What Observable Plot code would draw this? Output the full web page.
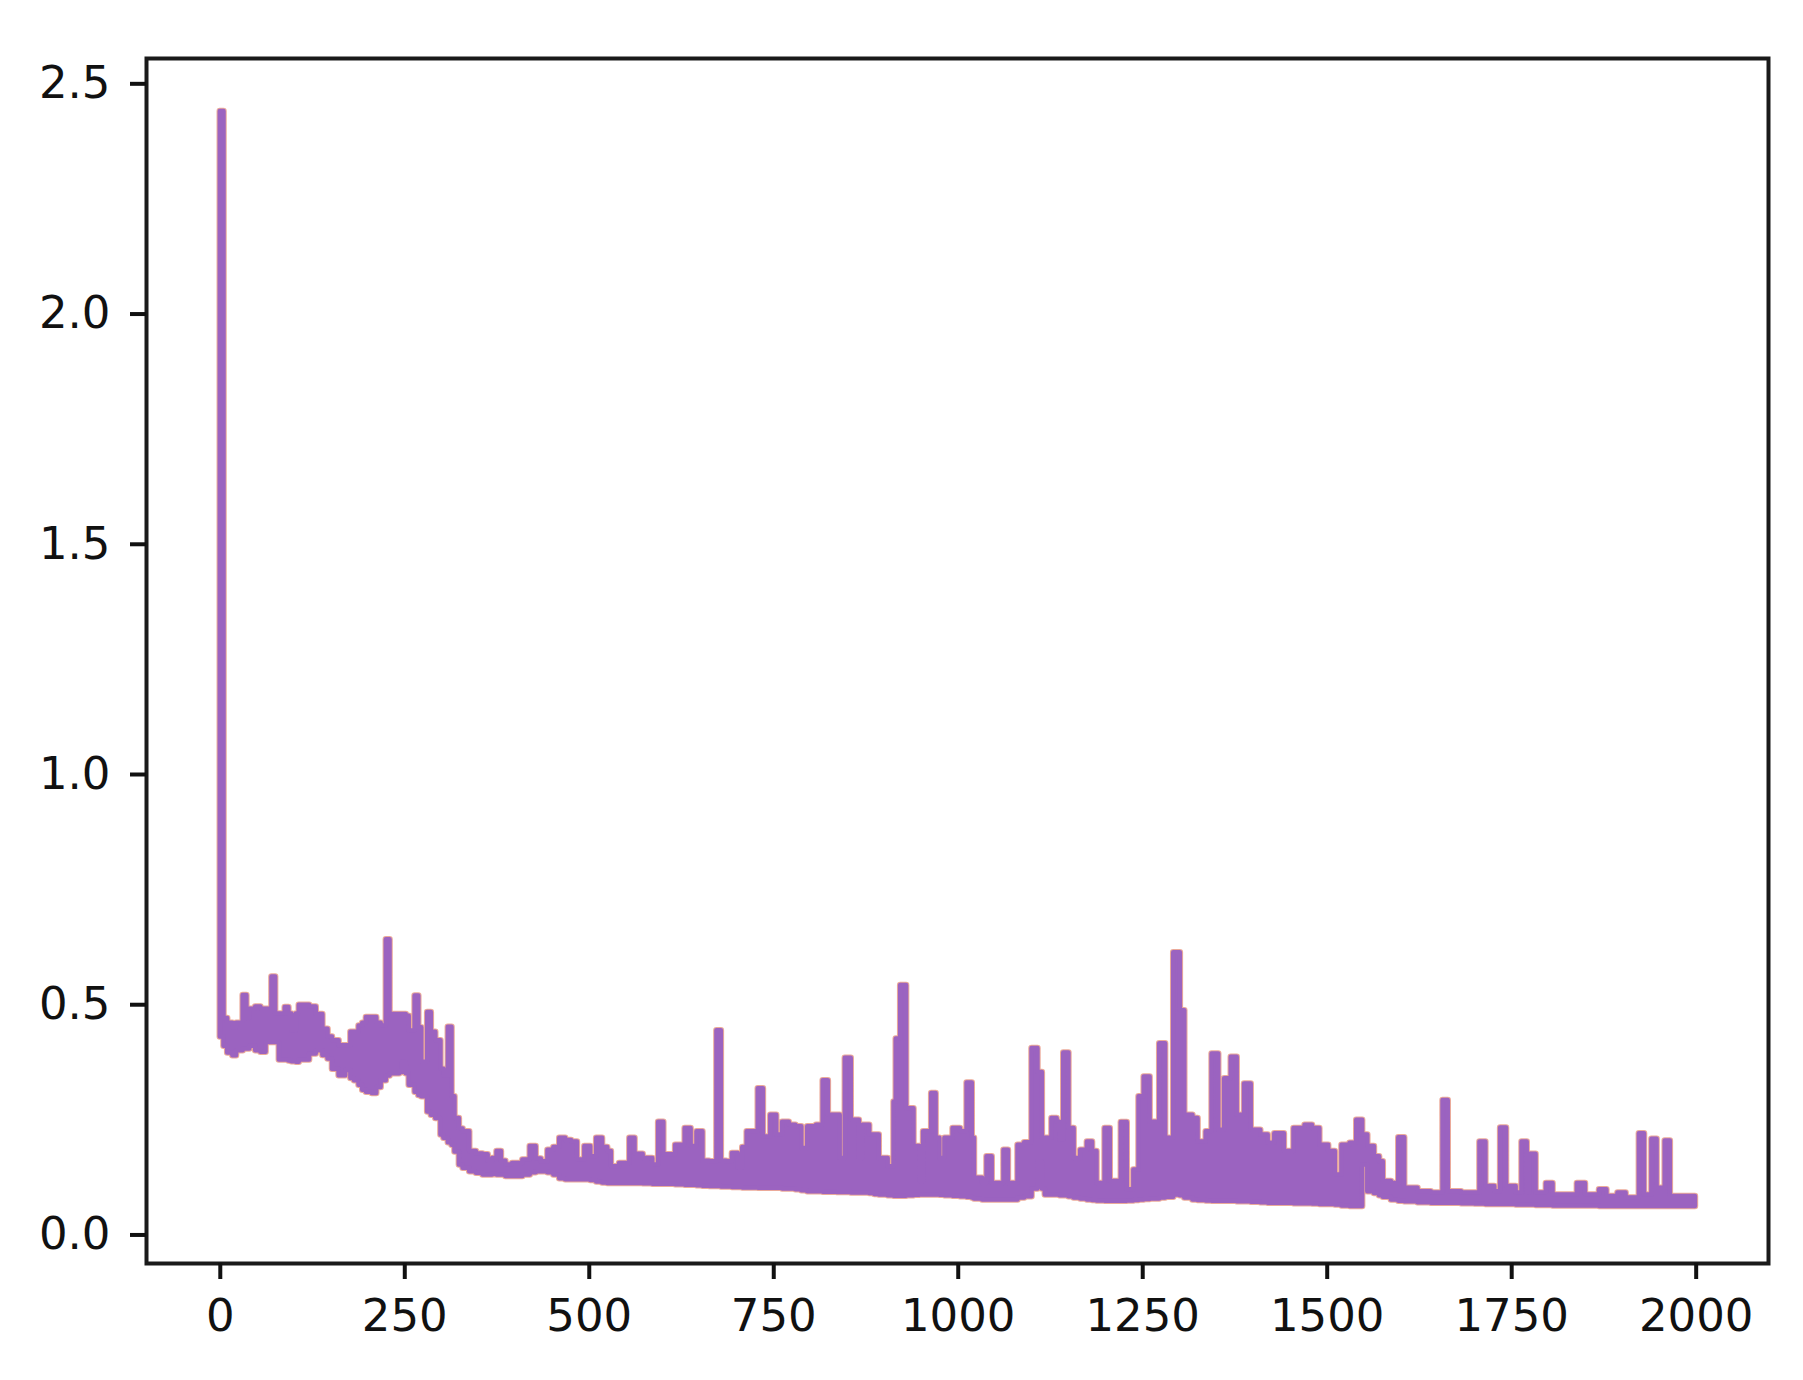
<!DOCTYPE html>
<html>
<head>
<meta charset="utf-8">
<script src="https://cdn.jsdelivr.net/npm/d3@7"></script>
<script src="https://cdn.jsdelivr.net/npm/@observablehq/plot@0.6"></script>
<style>
  html, body { margin: 0; padding: 0; background: #ffffff; }
  #chart svg { display: block; }
</style>
</head>
<body>
<div id="chart"></div>
<script>
// Training steps (x) where the envelope of the oscillating loss curve was read
const steps = [
  0, 5, 10, 17, 22, 31, 36, 40, 48, 55, 62, 70, 75, 80, 88, 93, 97, 103, 107, 121,
  130, 139, 146, 152, 161, 170, 177, 182, 188, 193, 198, 206, 212, 218, 225, 230, 243, 247, 252, 256,
  264, 269, 273, 281, 286, 292, 299, 303, 309, 314, 318, 324, 329, 338, 347, 356, 363, 369, 375, 381,
  387, 396, 410, 420, 428, 435, 444, 452, 460, 468, 476, 484, 494, 502, 510, 518, 525, 530, 541, 555,
  562, 573, 586, 594, 601, 609, 617, 630, 638, 646, 654, 663, 673, 679, 686, 694, 702, 708, 714, 729,
  736, 746, 754, 762, 771, 780, 788, 796, 808, 817, 824, 836, 840, 847, 855, 866, 871, 880, 887, 893,
  905, 913, 916, 922, 930, 940, 948, 953, 964, 970, 975, 982, 993, 1003, 1012, 1019, 1022, 1033, 1039, 1046,
  1062, 1068, 1081, 1090, 1100, 1108, 1114, 1118, 1127, 1134, 1138, 1143, 1150, 1157, 1166, 1175, 1182, 1188, 1199, 1206,
  1221, 1229, 1238, 1245, 1252, 1260, 1273, 1281, 1292, 1301, 1307, 1318, 1325, 1336, 1344, 1353, 1361, 1370, 1378, 1388,
  1397, 1410, 1420, 1429, 1442, 1455, 1470, 1480, 1490, 1502, 1511, 1520, 1531, 1540, 1548, 1555, 1564, 1571, 1576, 1587,
  1597, 1605, 1623, 1641, 1657, 1664, 1682, 1700, 1707, 1715, 1727, 1735, 1743, 1756, 1764, 1771, 1775, 1783, 1797, 1806,
  1839, 1850, 1869, 1879, 1894, 1905, 1923, 1930, 1940, 1947, 1958, 1965, 1999
];
// Upper edge of the loss curve (peaks of the oscillation / spikes)
const upper = [
  2.44, 0.47, 0.46, 0.45, 0.46, 0.52, 0.47, 0.49, 0.495, 0.49, 0.49, 0.56, 0.48, 0.48, 0.494, 0.48, 0.443, 0.48, 0.499, 0.495,
  0.479, 0.447, 0.43, 0.422, 0.411, 0.411, 0.44, 0.44, 0.454, 0.46, 0.472, 0.472, 0.46, 0.454, 0.641, 0.479, 0.479, 0.479, 0.475, 0.443,
  0.519, 0.45, 0.375, 0.483, 0.44, 0.422, 0.36, 0.346, 0.451, 0.30, 0.253, 0.23, 0.224, 0.181, 0.176, 0.174, 0.16, 0.166, 0.181, 0.16,
  0.152, 0.155, 0.163, 0.192, 0.165, 0.159, 0.184, 0.19, 0.21, 0.205, 0.202, 0.163, 0.192, 0.17, 0.21, 0.19, 0.181, 0.148, 0.155, 0.21,
  0.175, 0.166, 0.152, 0.245, 0.174, 0.174, 0.195, 0.231, 0.192, 0.224, 0.16, 0.159, 0.4435, 0.16, 0.159, 0.177, 0.145, 0.19, 0.224, 0.3175,
  0.213, 0.26, 0.217, 0.245, 0.238, 0.235, 0.188, 0.235, 0.238, 0.335, 0.26, 0.26, 0.166, 0.384, 0.249, 0.166, 0.238, 0.217, 0.217, 0.166,
  0.148, 0.289, 0.4255, 0.542, 0.274, 0.192, 0.116, 0.224, 0.307, 0.21, 0.166, 0.21, 0.231, 0.224, 0.33, 0.21, 0.123, 0.112, 0.17, 0.112,
  0.184, 0.112, 0.195, 0.20, 0.405, 0.353, 0.21, 0.21, 0.253, 0.245, 0.206, 0.395, 0.231, 0.166, 0.184, 0.202, 0.181, 0.112, 0.231, 0.116,
  0.244, 0.098, 0.141, 0.30, 0.343, 0.245, 0.415, 0.21, 0.6127, 0.487, 0.26, 0.253, 0.202, 0.224, 0.393, 0.2275, 0.339, 0.386, 0.26, 0.328,
  0.2275, 0.217, 0.199, 0.22, 0.181, 0.231, 0.238, 0.231, 0.195, 0.181, 0.13, 0.195, 0.199, 0.249, 0.217, 0.192, 0.17, 0.159, 0.116, 0.112,
  0.211, 0.1015, 0.094, 0.091, 0.292, 0.094, 0.091, 0.091, 0.202, 0.105, 0.094, 0.2325, 0.105, 0.091, 0.202, 0.091, 0.175, 0.091, 0.112, 0.087,
  0.112, 0.087, 0.098, 0.0835, 0.091, 0.08, 0.22, 0.087, 0.208, 0.1015, 0.204, 0.0835, 0.073
];
// Lower edge of the loss curve (troughs of the oscillation)
const lower = [
  0.43, 0.41, 0.395, 0.389, 0.40, 0.404, 0.404, 0.41, 0.40, 0.397, 0.418, 0.418, 0.418, 0.38, 0.38, 0.378, 0.376, 0.375, 0.38, 0.393,
  0.40, 0.39, 0.382, 0.36, 0.346, 0.357, 0.34, 0.335, 0.325, 0.314, 0.31, 0.307, 0.32, 0.335, 0.345, 0.35, 0.353, 0.375, 0.35, 0.325,
  0.31, 0.303, 0.30, 0.267, 0.26, 0.253, 0.217, 0.21, 0.20, 0.195, 0.18, 0.152, 0.145, 0.1375, 0.134, 0.13, 0.13, 0.132, 0.13, 0.13,
  0.127, 0.127, 0.13, 0.135, 0.137, 0.1375, 0.135, 0.13, 0.122, 0.12, 0.12, 0.12, 0.12, 0.118, 0.115, 0.113, 0.112, 0.112, 0.112, 0.112,
  0.112, 0.111, 0.11, 0.11, 0.11, 0.11, 0.109, 0.108, 0.108, 0.107, 0.106, 0.105, 0.105, 0.104, 0.104, 0.103, 0.103, 0.102, 0.102, 0.1015,
  0.1015, 0.1015, 0.1015, 0.10, 0.10, 0.098, 0.096, 0.094, 0.094, 0.093, 0.093, 0.092, 0.092, 0.092, 0.091, 0.091, 0.091, 0.09, 0.088, 0.087,
  0.085, 0.084, 0.084, 0.084, 0.085, 0.086, 0.087, 0.087, 0.087, 0.087, 0.086, 0.085, 0.084, 0.083, 0.082, 0.08, 0.078, 0.076, 0.076, 0.076,
  0.076, 0.076, 0.08, 0.083, 0.10, 0.159, 0.10, 0.087, 0.087, 0.087, 0.085, 0.085, 0.083, 0.08, 0.078, 0.076, 0.075, 0.074, 0.073, 0.073,
  0.073, 0.074, 0.075, 0.076, 0.077, 0.078, 0.08, 0.082, 0.087, 0.085, 0.08, 0.076, 0.075, 0.074, 0.073, 0.073, 0.073, 0.073, 0.072, 0.072,
  0.071, 0.07, 0.069, 0.069, 0.069, 0.068, 0.068, 0.067, 0.066, 0.066, 0.065, 0.063, 0.062, 0.062, 0.152, 0.094, 0.09, 0.085, 0.082, 0.076,
  0.073, 0.072, 0.07, 0.069, 0.069, 0.069, 0.068, 0.067, 0.067, 0.066, 0.066, 0.066, 0.066, 0.065, 0.065, 0.065, 0.065, 0.064, 0.064, 0.063,
  0.063, 0.063, 0.062, 0.062, 0.062, 0.062, 0.062, 0.062, 0.062, 0.062, 0.062, 0.062, 0.062
];
const xTicks = [0, 250, 500, 750, 1000, 1250, 1500, 1750, 2000];
const yTicks = [0.0, 0.5, 1.0, 1.5, 2.0, 2.5];

const table = steps.map((s, i) => ({ step: s, hi: upper[i], lo: lower[i] }));

const purple = "#9b63c0";
const fringe = "#e3866f";

const chart = Plot.plot({
  width: 1803,
  height: 1380,
  marginLeft: 146,
  marginRight: 35,
  marginTop: 58,
  marginBottom: 117,
  x: { domain: [-100, 2098] },
  y: { domain: [-0.062, 2.555] },
  style: { fontFamily: "DejaVu Sans", fontSize: "45px", color: "#111", background: "#ffffff" },
  marks: [
    Plot.areaY(table, { x: "step", y1: "lo", y2: "hi", curve: "step-after", fill: "none",
      stroke: fringe, strokeWidth: 6.5, strokeOpacity: 0.7, strokeLinejoin: "round" }),
    Plot.areaY(table, { x: "step", y1: "lo", y2: "hi", curve: "step-after", fill: purple,
      stroke: purple, strokeWidth: 4.5, strokeLinejoin: "round" }),
    Plot.frame({ stroke: "#1a1a1a", strokeWidth: 4 }),
    Plot.axisX({ ticks: xTicks, tickSize: 16, tickPadding: 20, strokeWidth: 4,
      tickFormat: d3.format("d"), label: null }),
    Plot.axisY({ ticks: yTicks, tickSize: 16, tickPadding: 20, strokeWidth: 4,
      tickFormat: d3.format(".1f"), label: null })
  ]
});
document.getElementById("chart").appendChild(chart);
</script>
</body>
</html>
